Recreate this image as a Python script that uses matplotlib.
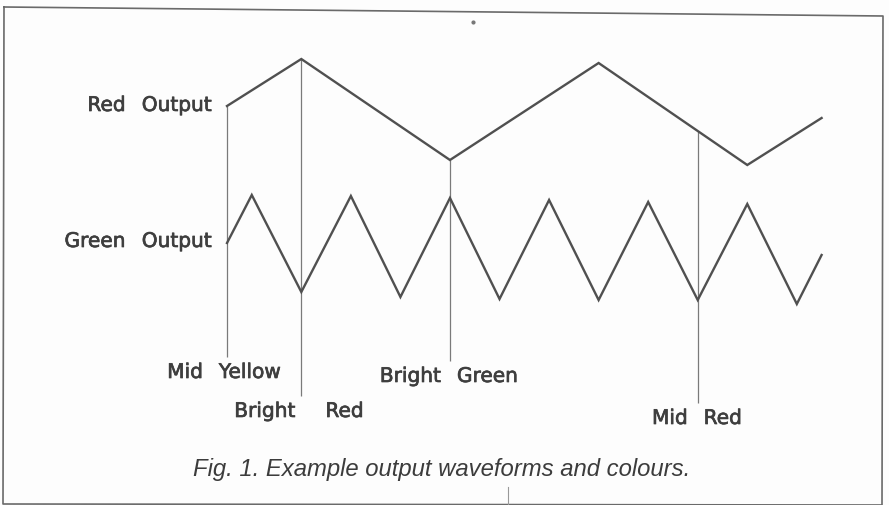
import numpy as np
import matplotlib
matplotlib.use("Agg")
import matplotlib.pyplot as plt
import matplotlib.patheffects as pe
from matplotlib.transforms import IdentityTransform

# ---- data (time in units of half a green period; level = vertical position) ----
red_t = [0, 1.5, 4.5, 7.5, 10.5, 12]
red_level = [107, 60, 161, 64, 166, 119]

green_t = [0, 0.5, 1.5, 2.5, 3.5, 4.5, 5.5, 6.5, 7.5, 8.5, 9.5, 10.5, 11.5, 12]
green_level = [244, 196, 293, 197, 298, 199, 300, 201, 301, 203, 301, 205, 305, 256]

row_labels = ["Red Output", "Green Output"]
row_label_level = [112, 248]          # baselines

mark_t = [0, 1.5, 4.5, 9.5]
mark_labels = ["Mid Yellow", "Bright Red", "Bright Green", "Mid Red"]
mark_bottom = [358, 397, 362, 404]

caption = "Fig. 1. Example output waveforms and colours."

# ---- layout / style ----
W, H = 889, 506
label_baseline = [379, 418, 383, 425]
label_center_px = [224, 299, 449, 697]
word_gap_px = [16, 30, 16, 16]

fig = plt.figure(figsize=(W / 100, H / 100), dpi=100)
fig.patch.set_facecolor("#fdfdfd")
ax = fig.add_axes([0, 0, 1, 1])
ax.set_facecolor("#fdfdfd")
x0_px, unit_px = 227.0, 49.55
ax.set_xlim(-x0_px / unit_px, (W - x0_px) / unit_px)
ax.set_ylim(H, 0)
ax.axis("off")

line_col = "#505050"
thin_col = "#7a7a7a"
text_col = "#3e3e3e"
lab_font = dict(family="DejaVu Sans", fontsize=14.5, color=text_col,
                path_effects=[pe.withStroke(linewidth=0.5, foreground=text_col)])

renderer = fig.canvas.get_renderer()


def word_label(words, gap, x_px, base_px, align):
    """Place words with a wide gap; x_px is centre ('center') or right edge ('right')."""
    texts = [fig.text(0, 0, w, ha="left", va="baseline", transform=IdentityTransform(), **lab_font)
             for w in words]
    widths = [t.get_window_extent(renderer).width for t in texts]
    total = sum(widths) + gap * (len(words) - 1)
    start = x_px - total / 2 if align == "center" else x_px - total
    for t, w in zip(texts, widths):
        t.set_position((start, H - base_px))
        start += w + gap


# border (slightly tilted scan)
bx = np.array([4, 883, 882, 3, 4]) / W
by = 1 - np.array([8, 17, 506, 505, 8]) / H
ax.plot(bx, by, color="#6a6a6a", lw=1.2, transform=ax.transAxes, clip_on=False)

# marker verticals
for t, yb in zip(mark_t, mark_bottom):
    ytop = np.interp(t, red_t, red_level)
    ax.plot([t, t], [ytop, yb], color=thin_col, lw=0.9, solid_capstyle="butt")

# waveforms
ax.plot(red_t, red_level, color=line_col, lw=1.7, solid_joinstyle="miter")
ax.plot(green_t, green_level, color=line_col, lw=1.7, solid_joinstyle="miter")

# row labels (right edge at 212 px)
for lab, lv in zip(row_labels, row_label_level):
    word_label(lab.split(" "), 16, 212, lv, "right")

# marker labels
for lab, cx, base, gap in zip(mark_labels, label_center_px, label_baseline, word_gap_px):
    word_label(lab.split(" "), gap, cx, base, "center")

# caption
ax.text(442 / W, 1 - 470 / H, caption, transform=ax.transAxes, ha="center", va="center",
        family="Liberation Sans", style="italic", fontsize=17.2, color="#3c3c3c")

# scan specks
ax.plot([473 / W], [1 - 23 / H], marker="o", ms=2, color="#777777", transform=ax.transAxes)
ax.plot([508 / W, 508 / W], [1 - 488 / H, 0], color="#999999", lw=0.8, transform=ax.transAxes)

fig.savefig("out.png", dpi=100, facecolor=fig.get_facecolor())
